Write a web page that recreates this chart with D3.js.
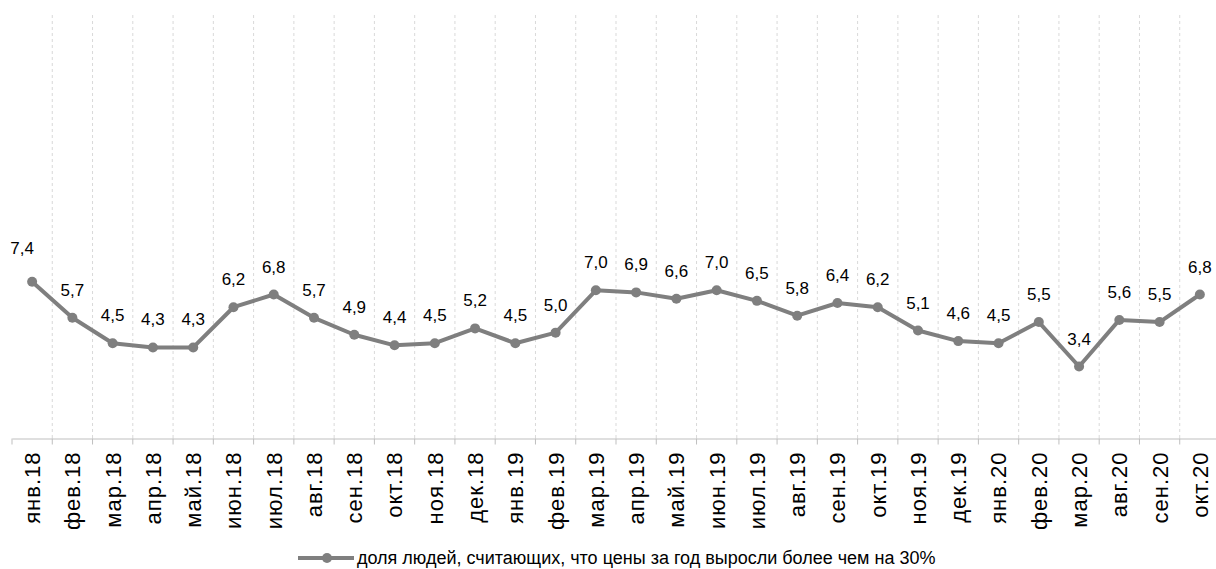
<!DOCTYPE html>
<html>
<head>
<meta charset="utf-8">
<script src="https://cdn.jsdelivr.net/npm/d3@7"></script>
<style>
  html, body { margin: 0; padding: 0; background: #fff; }
  svg { display: block; font-family: "Liberation Sans", Arial, sans-serif; }
</style>
</head>
<body>
<svg id="chart" width="1216" height="569"></svg>
<script>
const categories = ["янв.18","фев.18","мар.18","апр.18","май.18","июн.18","июл.18","авг.18","сен.18","окт.18","ноя.18","дек.18",
  "янв.19","фев.19","мар.19","апр.19","май.19","июн.19","июл.19","авг.19","сен.19","окт.19","ноя.19","дек.19",
  "янв.20","фев.20","мар.20","авг.20","сен.20","окт.20"];
const values = [7.4,5.7,4.5,4.3,4.3,6.2,6.8,5.7,4.9,4.4,4.5,5.2,4.5,5.0,7.0,6.9,6.6,7.0,6.5,5.8,6.4,6.2,5.1,4.6,4.5,5.5,3.4,5.6,5.5,6.8];
const seriesName = "доля людей, считающих, что цены за год выросли более чем на 30%";
const yDomain = [0, 20];

const svg = d3.select("#chart");
const mLeft = 12, mRight = 1220, mTop = 15, mBottom = 438.5;

const x = d3.scaleBand().domain(categories).range([mLeft, mRight]).padding(0);
const y = d3.scaleLinear().domain(yDomain).range([mBottom, mTop]);

const lineColor = "#7f7f7f";

// vertical dashed gridlines at band boundaries
const boundaries = categories.slice(1).map(c => x(c));
svg.append("g").selectAll("line").data(boundaries).join("line")
  .attr("x1", d => d).attr("x2", d => d)
  .attr("y1", mTop).attr("y2", mBottom)
  .attr("stroke", "#d9d9d9").attr("stroke-width", 1)
  .attr("stroke-dasharray", "3,3");

// x axis
const xAxis = svg.append("g").attr("transform", `translate(0,${mBottom})`)
  .call(d3.axisBottom(x).tickSize(0).tickPadding(0));
xAxis.attr("font-size", 22).attr("font-family", "'Liberation Sans', Arial, sans-serif");
xAxis.select(".domain").attr("stroke", "#bfbfbf").attr("stroke-width", 1);
xAxis.selectAll(".tick text")
  .attr("transform", "rotate(-90)")
  .attr("text-anchor", "end")
  .attr("x", -13).attr("y", 0).attr("dy", "0.36em")
  .style("font-size", "22px").style("letter-spacing", "1px")
  .attr("fill", "#000");
// tick marks at band boundaries
svg.append("g").selectAll("line").data([mLeft, ...boundaries]).join("line")
  .attr("x1", d => d).attr("x2", d => d)
  .attr("y1", mBottom).attr("y2", mBottom + 6)
  .attr("stroke", "#bfbfbf").attr("stroke-width", 1);

const cx = c => x(c) + x.bandwidth() / 2;
const data = categories.map((c, i) => ({c, v: values[i]}));

svg.append("path").datum(data)
  .attr("fill", "none").attr("stroke", lineColor).attr("stroke-width", 4)
  .attr("stroke-linejoin", "round")
  .attr("d", d3.line().x(d => cx(d.c)).y(d => y(d.v)));

svg.append("g").selectAll("circle").data(data).join("circle")
  .attr("cx", d => cx(d.c)).attr("cy", d => y(d.v)).attr("r", 5)
  .attr("fill", lineColor);

const fmt = v => d3.format(".1f")(v).replace(".", ",");
svg.append("g").selectAll("text").data(data).join("text")
  .attr("x", d => cx(d.c)).attr("y", d => y(d.v))
  .attr("dx", (d, i) => i === 0 ? -10 : 0)
  .attr("dy", (d, i) => i === 0 ? -28 : -22)
  .attr("text-anchor", "middle")
  .attr("font-size", 17).attr("fill", "#000")
  .text(d => fmt(d.v));

// legend
const lg = svg.append("g").attr("transform", "translate(298,558)");
lg.append("line").attr("x1", 0).attr("x2", 56).attr("y1", 0).attr("y2", 0)
  .attr("stroke", lineColor).attr("stroke-width", 4);
lg.append("circle").attr("cx", 29).attr("cy", 0).attr("r", 5).attr("fill", lineColor);
lg.append("text").attr("x", 59).attr("y", 0).attr("dy", "0.35em")
  .attr("font-size", 18).attr("fill", "#000").text(seriesName);
</script>
</body>
</html>
